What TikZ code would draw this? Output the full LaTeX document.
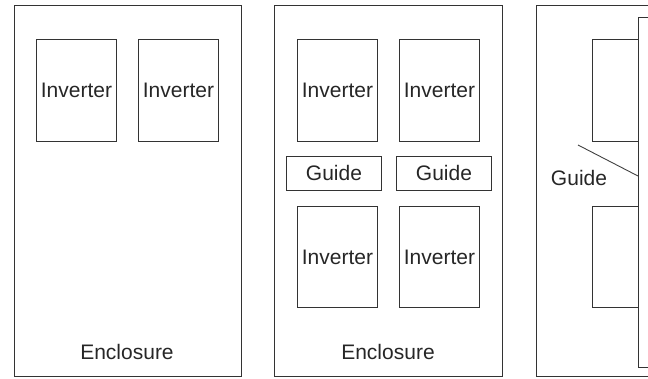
\documentclass[tikz,border=0pt]{standalone}
\usepackage{fontspec}
\setmainfont{Liberation Sans}
\begin{document}
\begin{tikzpicture}[x=1pt,y=-1pt,
  every node/.style={font=\fontsize{21}{25}\selectfont, text=black!85},
  box/.style={draw=black!80, line width=0.9pt, inner sep=0pt, anchor=north west},
  frame/.style={draw=black!75, line width=0.9pt}]
\useasboundingbox (0,0) rectangle (648,379);
\clip (0,0) rectangle (648,379);
% panel 1
\node[box, minimum width=227, minimum height=371] (enc1) at (14,5) {};
\node (enc1t) at (127,352) {Enclosure};
\node[box, minimum width=80, minimum height=102] (inv1a) at (36,39) {Inverter};
\node[box, minimum width=80, minimum height=102] (inv1b) at (138,39) {Inverter};
% panel 2
\node[box, minimum width=228, minimum height=371] (enc2) at (274,5) {};
\node (enc2t) at (388,352) {Enclosure};
\node[box, minimum width=80, minimum height=102] (inv2a) at (297,39) {Inverter};
\node[box, minimum width=80, minimum height=102] (inv2b) at (399,39) {Inverter};
\node[box, minimum width=95, minimum height=34] (g2a) at (286,156) {Guide};
\node[box, minimum width=95, minimum height=34] (g2b) at (396,156) {Guide};
\node[box, minimum width=80, minimum height=101] (inv2c) at (297,206) {Inverter};
\node[box, minimum width=80, minimum height=101] (inv2d) at (399,206) {Inverter};
% panel 3
\node[box, minimum width=180, minimum height=371] (enc3) at (536,5) {};
\node[box, minimum width=46, minimum height=102] (inv3a) at (592,39) {};
\node[box, minimum width=46, minimum height=101] (inv3b) at (592,206) {};
\node[box, minimum width=80, minimum height=350] (guide3) at (638,17) {};
\node (g3t) at (579,178) {Guide};
\coordinate (g3s) at (578,145);
\draw[frame] (g3s) -- (guide3.west |- 0,176);
\end{tikzpicture}
\end{document}
